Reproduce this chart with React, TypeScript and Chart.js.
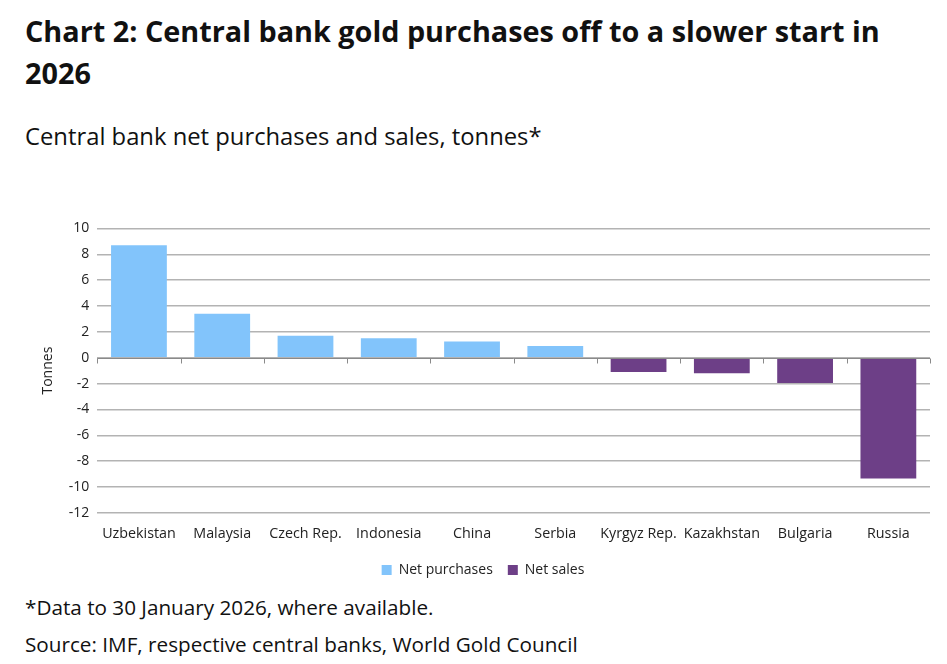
import React, { useEffect, useRef } from "react";
import { Chart, registerables } from "chart.js";

Chart.register(...registerables);

const categories = ["Uzbekistan", "Malaysia", "Czech Rep.", "Indonesia", "China", "Serbia", "Kyrgyz Rep.", "Kazakhstan", "Bulgaria", "Russia"];
const netPurchases = [8.7, 3.4, 1.7, 1.5, 1.25, 0.9, null, null, null, null];
const netSales = [null, null, null, null, null, null, -1.1, -1.2, -1.95, -9.35];
const yMin = -12;
const yMax = 10;
const yStep = 2;

const FONT = "'Open Sans', 'Noto Sans', sans-serif";

const zeroTicks = {
  id: "zeroTicks",
  afterDatasetsDraw(chart: any) {
    const x = chart.scales.x;
    const y = chart.scales.y;
    const ctx = chart.ctx;
    const y0 = Math.round(y.getPixelForValue(0)) + 0.5;
    ctx.save();
    ctx.strokeStyle = "#8a8a8a";
    ctx.lineWidth = 1;
    ctx.beginPath();
    ctx.moveTo(chart.chartArea.left, y0);
    ctx.lineTo(chart.chartArea.right, y0);
    const n = chart.data.labels.length;
    const w = x.getPixelForValue(1) - x.getPixelForValue(0);
    for (let i = 0; i <= n; i++) {
      const px = x.getPixelForValue(0) - w / 2 + i * w;
      ctx.moveTo(Math.round(px) + 0.5, y0);
      ctx.lineTo(Math.round(px) + 0.5, y0 + 5);
    }
    ctx.stroke();
    ctx.restore();
  },
};

export default function App() {
  const ref = useRef<HTMLCanvasElement>(null);
  useEffect(() => {
    if (!ref.current) return;
    const chart = new Chart(ref.current, {
      type: "bar",
      data: {
        labels: categories,
        datasets: [
          { label: "Net purchases", data: netPurchases as any, backgroundColor: "#82c4fb", borderWidth: 0 },
          { label: "Net sales", data: netSales as any, backgroundColor: "#6d3f87", borderWidth: 0 },
        ],
      },
      options: {
        animation: false,
        responsive: false,
        maintainAspectRatio: false,
        layout: { padding: { left: 0, right: 16, top: 8, bottom: 0 } },
        datasets: { bar: { categoryPercentage: 0.67, barPercentage: 1 } },
        plugins: {
          legend: {
            position: "bottom",
            labels: { boxWidth: 10, boxHeight: 10, font: { family: FONT, size: 14 }, color: "#222", padding: 15 },
          },
          tooltip: { enabled: false },
        },
        scales: {
          x: {
            stacked: true,
            grid: { display: false },
            border: { display: false },
            ticks: { font: { family: FONT, size: 14.3 }, color: "#222", padding: 5, maxRotation: 0 },
          },
          y: {
            stacked: true,
            min: yMin,
            max: yMax,
            ticks: { stepSize: yStep, font: { family: FONT, size: 14 }, color: "#222", padding: 8 },
            grid: { color: "#b3b3b3", lineWidth: 1.5, drawTicks: false },
            border: { display: false },
            title: { display: true, text: "Tonnes", font: { family: FONT, size: 14 }, color: "#222", padding: 4 },
          },
        },
      },
      plugins: [zeroTicks],
    });
    return () => chart.destroy();
  }, []);

  return (
    <div style={{ position: "relative", margin: -8, width: 947, height: 664, background: "#fff", fontFamily: FONT, color: "#111", overflow: "hidden" }}>
      <div style={{ position: "absolute", left: 25, top: 10, width: 900, fontSize: 28.8, fontWeight: 700, lineHeight: "42px" }}>
        Chart 2: Central bank gold purchases off to a slower start in 2026
      </div>
      <div style={{ position: "absolute", left: 25, top: 120, fontSize: 23.8 }}>
        Central bank net purchases and sales, tonnes*
      </div>
      <canvas ref={ref} width={910} height={375} style={{ position: "absolute", left: 36, top: 212 }} />
      <div style={{ position: "absolute", left: 25, top: 593, fontSize: 20.7 }}>
        *Data to 30 January 2026, where available.
      </div>
      <div style={{ position: "absolute", left: 25, top: 630, fontSize: 20.7 }}>
        Source: IMF, respective central banks, World Gold Council
      </div>
    </div>
  );
}
